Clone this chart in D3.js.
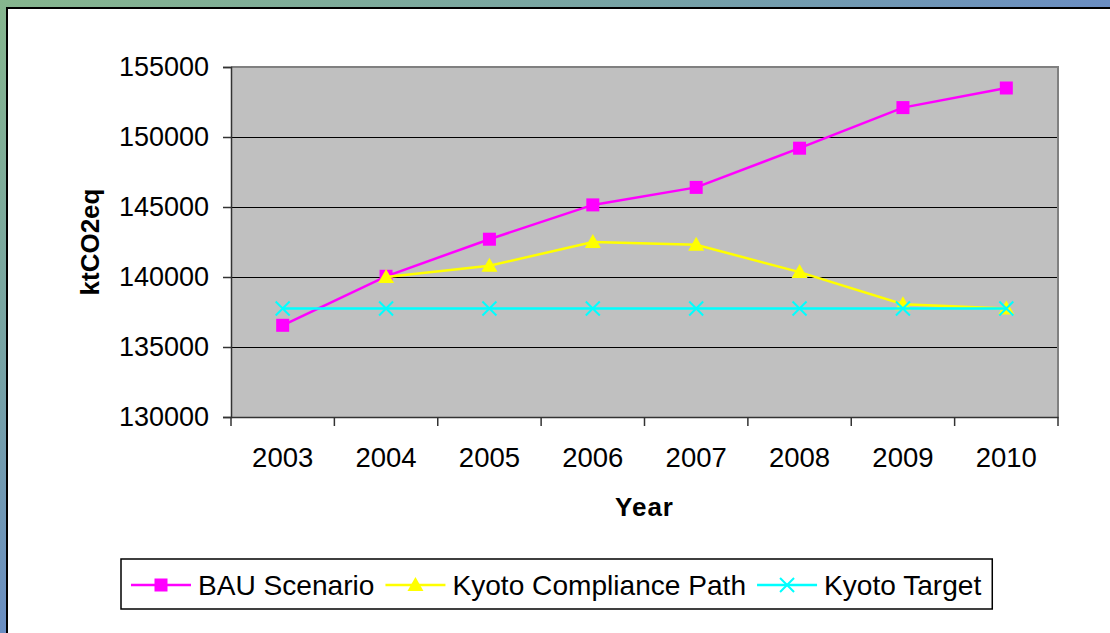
<!DOCTYPE html>
<html>
<head>
<meta charset="utf-8">
<script src="https://cdn.jsdelivr.net/npm/d3@7"></script>
<style>
html, body { margin: 0; padding: 0; }
body { width: 1110px; height: 633px; overflow: hidden;
  background: linear-gradient(to bottom right, #86b68e 0%, #76a2a6 30%, #6584d0 60%, #5a70e2 100%); }
svg { display: block; }
</style>
</head>
<body>
<svg id="chart" width="1110" height="633"></svg>
<script>
const years = ["2003", "2004", "2005", "2006", "2007", "2008", "2009", "2010"];
const bauValues = [136550, 140050, 142700, 145150, 146400, 149200, 152100, 153500];
const complianceYears = ["2004", "2005", "2006", "2007", "2008", "2009", "2010"];
const complianceValues = [140000, 140800, 142500, 142300, 140350, 138050, 137750];
const targetValues = [137750, 137750, 137750, 137750, 137750, 137750, 137750, 137750];
const yTicks = [130000, 135000, 140000, 145000, 150000, 155000];
const seriesNames = ["BAU Scenario", "Kyoto Compliance Path", "Kyoto Target"];
const seriesColors = ["#ff00ff", "#ffff00", "#00ffff"];
const xTitle = "Year";
const yTitle = "ktCO2eq";

const svg = d3.select("#chart");
const FONT = "Arial, 'Liberation Sans', sans-serif";

// white panel
svg.append("rect").attr("x", 7).attr("y", 8).attr("width", 1110).attr("height", 640)
  .attr("fill", "#fff").attr("stroke", "#000").attr("stroke-width", 2);

const plot = { left: 231, top: 67, right: 1058, bottom: 417 };
const x = d3.scaleBand().domain(years).range([plot.left, plot.right]).padding(0);
const y = d3.scaleLinear().domain([130000, 155000]).range([plot.bottom, plot.top]);
const cx = d => x(d) + x.bandwidth() / 2;

// plot area
svg.append("rect").attr("x", plot.left).attr("y", plot.top)
  .attr("width", plot.right - plot.left).attr("height", plot.bottom - plot.top)
  .attr("fill", "#c0c0c0");

// gridlines
svg.append("g").selectAll("line").data(yTicks.filter(t => t > 130000 && t < 155000)).join("line")
  .attr("x1", plot.left).attr("x2", plot.right)
  .attr("y1", d => Math.round(y(d)) + 0.5).attr("y2", d => Math.round(y(d)) + 0.5)
  .attr("stroke", "#000").attr("stroke-width", 1);

// border top/right gray
svg.append("path")
  .attr("d", `M${plot.left},${plot.top} H${plot.right} V${plot.bottom}`)
  .attr("fill", "none").attr("stroke", "#808080").attr("stroke-width", 2);

// Y axis
const yAxis = d3.axisLeft(y).tickValues(yTicks).tickSize(8).tickPadding(14).tickFormat(d3.format("d"));
const gy = svg.append("g").attr("transform", `translate(${plot.left},0)`).call(yAxis);
gy.select(".domain").attr("stroke", "#333").attr("stroke-width", 1.5);
gy.selectAll(".tick line").attr("stroke", "#333").attr("stroke-width", 1.5);
gy.selectAll(".tick text").attr("font-family", FONT).attr("font-size", 27).attr("fill", "#000");

// X axis
const xAxis = d3.axisBottom(x).tickSize(0).tickPadding(30);
const gx = svg.append("g").attr("transform", `translate(0,${plot.bottom})`).call(xAxis);
gx.select(".domain").attr("stroke", "#333").attr("stroke-width", 1.5);
gx.selectAll(".tick text").attr("font-family", FONT).attr("font-size", 27.5).attr("fill", "#000");
// category boundary ticks
const bounds = years.map(d => x(d)).concat([x(years[years.length - 1]) + x.bandwidth()]);
svg.append("g").selectAll("line").data(bounds).join("line")
  .attr("x1", d => d).attr("x2", d => d)
  .attr("y1", plot.bottom).attr("y2", plot.bottom + 9)
  .attr("stroke", "#333").attr("stroke-width", 1.5);

// titles
svg.append("text").attr("x", (plot.left + plot.right) / 2).attr("y", 516)
  .attr("text-anchor", "middle").attr("font-family", FONT).attr("font-size", 26)
  .attr("font-weight", "bold").attr("letter-spacing", 1).text(xTitle);
svg.append("text").attr("transform", `translate(99,${(plot.top + plot.bottom) / 2}) rotate(-90)`)
  .attr("text-anchor", "middle").attr("font-family", FONT).attr("font-size", 26)
  .attr("font-weight", "bold").text(yTitle);

// markers
function marker(g, type, color, px, py) {
  if (type === 0) {
    g.append("rect").attr("x", px - 6.5).attr("y", py - 6.5).attr("width", 13).attr("height", 13)
      .attr("fill", color);
  } else if (type === 1) {
    g.append("path").attr("d", `M${px},${py - 8} L${px + 8},${py + 6} L${px - 8},${py + 6} Z`)
      .attr("fill", color);
  } else {
    g.append("path").attr("d", `M${px - 7},${py - 7} L${px + 7},${py + 7} M${px + 7},${py - 7} L${px - 7},${py + 7}`)
      .attr("stroke", color).attr("stroke-width", 2).attr("fill", "none");
  }
}

const line = d3.line().x(d => cx(d[0])).y(d => y(d[1]));
const seriesData = [
  d3.zip(years, bauValues),
  d3.zip(complianceYears, complianceValues),
  d3.zip(years, targetValues)
];
seriesData.forEach((data, i) => {
  const g = svg.append("g");
  g.append("path").attr("d", line(data)).attr("fill", "none")
    .attr("stroke", seriesColors[i]).attr("stroke-width", 2.5);
  data.forEach(d => marker(g, i, seriesColors[i], cx(d[0]), y(d[1])));
});

// legend
const lg = svg.append("g");
const box = lg.append("rect").attr("x", 121).attr("y", 559).attr("height", 50)
  .attr("fill", "#fff").attr("stroke", "#000").attr("stroke-width", 1.5);
let lx = 131;
const ly = 585;
seriesNames.forEach((name, i) => {
  lg.append("line").attr("x1", lx).attr("x2", lx + 60).attr("y1", ly).attr("y2", ly)
    .attr("stroke", seriesColors[i]).attr("stroke-width", 2.5);
  marker(lg, i, seriesColors[i], lx + 30, ly);
  const t = lg.append("text").attr("x", lx + 67).attr("y", ly + 10)
    .attr("font-family", FONT).attr("font-size", 28.1).text(name);
  lx = lx + 67 + t.node().getComputedTextLength() + 11;
});
box.attr("width", lx - 121);
</script>
</body>
</html>
